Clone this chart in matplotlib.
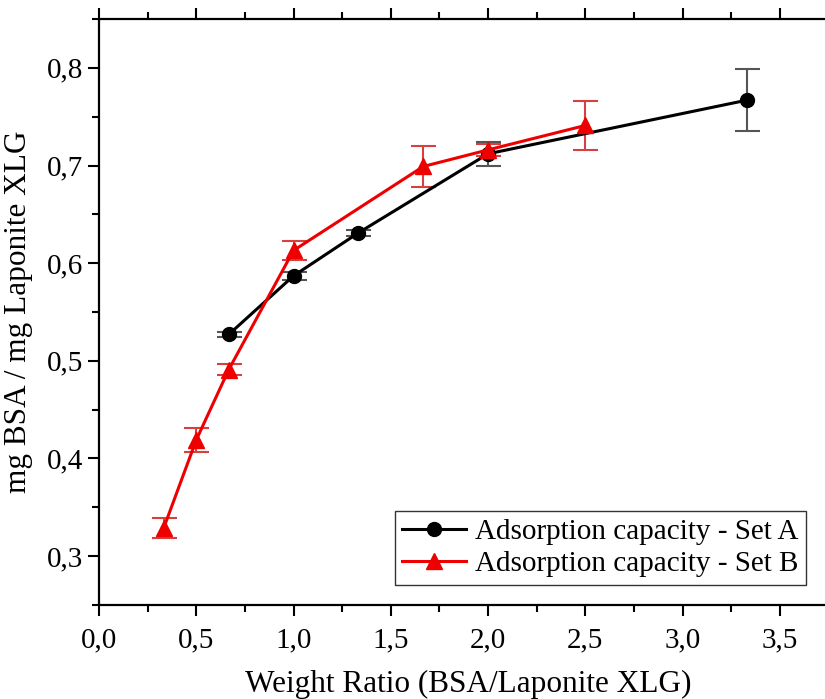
import matplotlib
matplotlib.use('Agg')
import matplotlib.pyplot as plt
from matplotlib.lines import Line2D
from matplotlib.ticker import MultipleLocator, FuncFormatter

plt.rcParams['font.family'] = ['Liberation Serif', 'DejaVu Serif']

# Set A
x_a = [0.667, 1.0, 1.333, 2.0, 3.333]
y_a = [0.527, 0.587, 0.631, 0.712, 0.767]
err_a = [0.003, 0.004, 0.003, 0.012, 0.032]

# Set B
x_b = [0.333, 0.5, 0.667, 1.0, 1.667, 2.0, 2.5]
y_b = [0.329, 0.419, 0.491, 0.613, 0.699, 0.716, 0.741]
err_b = [0.010, 0.012, 0.006, 0.010, 0.021, 0.006, 0.025]

label_a = 'Adsorption capacity - Set A'
label_b = 'Adsorption capacity - Set B'

fig = plt.figure(figsize=(8.25, 6.99), dpi=100)
ax = fig.add_axes([0.12, 0.1345, 0.896, 0.8383])

ax.errorbar(x_a, y_a, yerr=err_a, color='black', ecolor='#555555', elinewidth=1.5,
            capsize=9, capthick=1.5, marker='o', markersize=10, linewidth=2.2, zorder=3)
ax.errorbar(x_b, y_b, yerr=err_b, color='#ee0000', ecolor='#d84040', elinewidth=1.5,
            capsize=9, capthick=1.5, marker='^', markersize=11, linewidth=2.2, zorder=3)

ax.set_xlim(0, 3.8)
ax.set_ylim(0.25, 0.85)
ax.xaxis.set_major_locator(MultipleLocator(0.5))
ax.xaxis.set_minor_locator(MultipleLocator(0.25))
ax.yaxis.set_major_locator(MultipleLocator(0.1))
ax.yaxis.set_minor_locator(MultipleLocator(0.05))

comma = FuncFormatter(lambda v, p: '{:.1f}'.format(v).replace('.', ','))
ax.xaxis.set_major_formatter(comma)
ax.yaxis.set_major_formatter(comma)

ax.tick_params(which='both', direction='out', top=True, right=True, width=1.5, labelsize=21)
ax.tick_params(which='major', length=8)
ax.tick_params(which='minor', length=5)
ax.tick_params(axis='x', pad=8)
for s in ax.spines.values():
    s.set_linewidth(1.6)

ax.set_xlabel('Weight Ratio (BSA/Laponite XLG)', fontsize=22.5, labelpad=12)
ax.set_ylabel('mg BSA / mg Laponite XLG', fontsize=22.5, labelpad=10)

handles = [Line2D([], [], color='black', marker='o', markersize=10, linewidth=2.2),
           Line2D([], [], color='#ee0000', marker='^', markersize=11, linewidth=2.2)]
leg = ax.legend(handles, [label_a, label_b], loc='lower right', bbox_to_anchor=(0.968, 0.02),
                fontsize=21, frameon=True, fancybox=False, edgecolor='black',
                handlelength=2.2, handletextpad=0.3, borderpad=0.25, labelspacing=0.2,
                borderaxespad=0.3)
leg.get_frame().set_linewidth(1.0)

fig.savefig('out.png', dpi=100)
